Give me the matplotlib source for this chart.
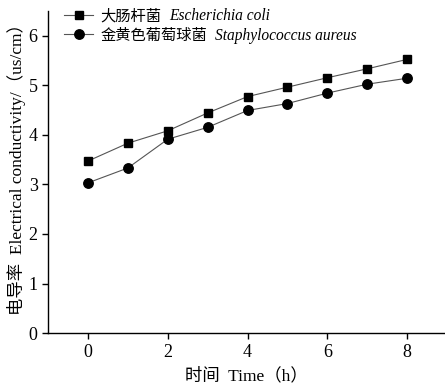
import matplotlib
matplotlib.use('Agg')
import matplotlib.pyplot as plt

plt.rcParams['font.family'] = ['Liberation Serif', 'Noto Sans CJK SC']
plt.rcParams['font.size'] = 12

hours = [0, 1, 2, 3, 4, 5, 6, 7, 8]
ecoli = [3.47, 3.83, 4.08, 4.44, 4.77, 4.96, 5.15, 5.33, 5.52]
saureus = [3.03, 3.33, 3.91, 4.15, 4.49, 4.63, 4.84, 5.02, 5.14]
names_cn = ['大肠杆菌', '金黄色葡萄球菌']
names_latin = ['Escherichia coli', 'Staphylococcus aureus']

fig = plt.figure(figsize=(4.45, 3.86), dpi=100)
ax = fig.add_axes([0.108, 0.137, 0.892, 0.835])

ax.plot(hours, ecoli, '-s', color='#555555', lw=0.8, ms=5.8,
        mfc='black', mec='black', label=names_cn[0])
ax.plot(hours, saureus, '-o', color='#555555', lw=0.8, ms=6.8,
        mfc='black', mec='black', label=names_cn[1])

ax.set_xlim(-1, 8.95)
ax.set_ylim(0, 6.5)
ax.set_xticks([0, 2, 4, 6, 8])
ax.set_yticks([0, 1, 2, 3, 4, 5, 6])
ax.spines['top'].set_visible(False)
ax.spines['right'].set_visible(False)
ax.spines['left'].set_linewidth(1.0)
ax.spines['bottom'].set_linewidth(1.0)
ax.tick_params(direction='out', length=4, width=1.0, labelsize=13)

ax.set_xlabel('时间  Time（h）', fontsize=12.5, labelpad=5)
ax.set_ylabel('电导率  Electrical conductivity/（us/cm）', fontsize=12.5, labelpad=0)
ax.yaxis.set_label_coords(-0.055, 0.52)

leg = ax.legend(loc='upper left', bbox_to_anchor=(0.025, 1.024), frameon=False,
                fontsize=11, handlelength=1.9, handletextpad=0.5,
                labelspacing=0.32, borderaxespad=0)

# italic latin names next to the chinese legend labels
fig.canvas.draw()
r = fig.canvas.get_renderer()
for txt, latin in zip(leg.get_texts(), names_latin):
    bb = txt.get_window_extent(r)
    fig.text((bb.x1 + 7) / fig.bbox.width, (bb.y0 + bb.y1) / 2 / fig.bbox.height,
             latin, style='italic', fontsize=11.2, va='center', ha='left',
             family='Liberation Serif')

fig.savefig('out.png', dpi=100)
